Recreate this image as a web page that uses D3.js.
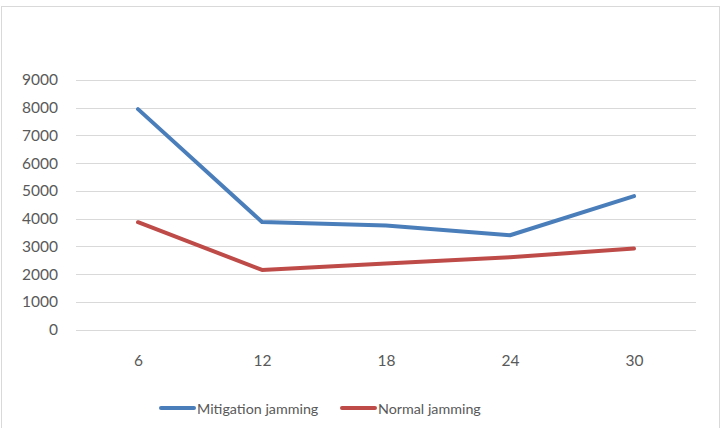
<!DOCTYPE html>
<html><head><meta charset="utf-8">
<script src="https://cdn.jsdelivr.net/npm/d3@7"></script>
<style>body{margin:0;background:#fff}svg{display:block}text{font-family:Lato,"Open Sans",sans-serif;fill:#595959}</style>
</head><body><svg id="c" width="721" height="428"></svg>
<script>
const categories = ["6","12","18","24","30"];
const mitigation = [7950, 3880, 3750, 3400, 4810];
const normal = [3870, 2150, 2380, 2610, 2920];
const yTicks = [0,1000,2000,3000,4000,5000,6000,7000,8000,9000];
const seriesNames = ["Mitigation jamming","Normal jamming"];
const colors = ["#4a7ebb","#be4b48"];

const svg = d3.select("#c");
svg.append("rect").attr("x",1.5).attr("y",6.5).attr("width",718).attr("height",430)
  .attr("fill","#fff").attr("stroke","#d9d9d9");

const x = d3.scalePoint().domain(categories).range([138,634]);
const y = d3.scaleLinear().domain([0,9000]).range([329.5,80]);

const grid = svg.append("g");
grid.selectAll("line").data(yTicks).join("line")
  .attr("x1",76).attr("x2",696).attr("y1",d=>Math.round(y(d))+0.5).attr("y2",d=>Math.round(y(d))+0.5)
  .attr("stroke","#d9d9d9").attr("stroke-width",1);

const yAxis = svg.append("g").attr("transform","translate(58,0)")
  .call(d3.axisLeft(y).tickValues(yTicks).tickSize(0).tickPadding(0).tickFormat(d3.format("d")));
yAxis.select(".domain").remove();
yAxis.selectAll("text").attr("font-size",15.5).style("fill","#595959").attr("font-family","Lato, 'Open Sans', sans-serif");

const xAxis = svg.append("g").attr("transform","translate(0,355)")
  .call(d3.axisBottom(x).tickSize(0).tickPadding(0));
xAxis.select(".domain").remove();
xAxis.selectAll("text").attr("font-size",15.5).style("fill","#595959").attr("font-family","Lato, 'Open Sans', sans-serif");

const line = d3.line().x((d,i)=>x(categories[i])).y(d=>y(d));
[mitigation, normal].forEach((s,k)=>{
  svg.append("path").datum(s).attr("d",line).attr("fill","none")
    .attr("stroke",colors[k]).attr("stroke-width",4).attr("stroke-linecap","round").attr("stroke-linejoin","round");
});

const legX = [161, 342];
seriesNames.forEach((n,k)=>{
  const g = svg.append("g").attr("transform",`translate(${legX[k]},408)`);
  g.append("line").attr("x1",0).attr("x2",33).attr("stroke",colors[k]).attr("stroke-width",4).attr("stroke-linecap","round");
  g.append("text").attr("x",36).attr("y",5.5).attr("font-size",14.3).text(n);
});
</script></body></html>
